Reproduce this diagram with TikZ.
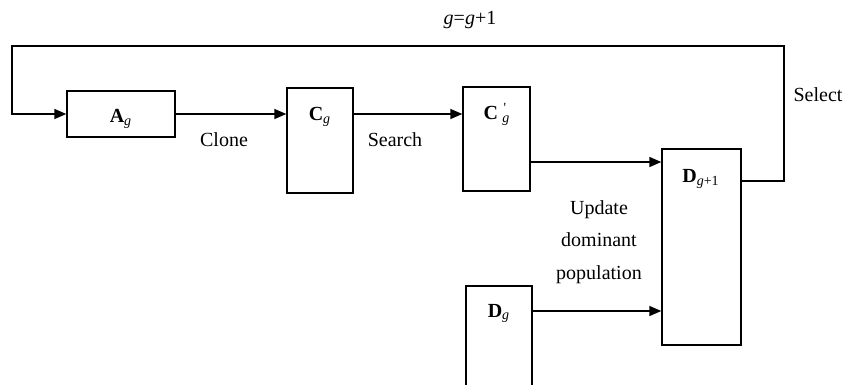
\documentclass[tikz,border=0pt]{standalone}
\usepackage{fontspec}
\setmainfont{Liberation Serif}
\usetikzlibrary{arrows.meta}

\begin{document}
\begin{tikzpicture}[x=0.5pt,y=-0.5pt,
  box/.style={draw, line width=0.7pt, inner sep=0pt},
  lbl/.style={anchor=base, inner sep=0pt},
  flow/.style={line width=0.8pt, -{Triangle[length=6pt,width=5pt]}}]
\useasboundingbox (0,0) rectangle (858,385);
\clip (0,0) rectangle (858,385);

% boxes
\node[box, minimum width=54pt, minimum height=23pt] (A) at (121,114) {};
\node[box, minimum width=33pt, minimum height=52.5pt] (C) at (320,140.5) {};
\node[box, minimum width=33.5pt, minimum height=52pt] (Cp) at (496.5,139) {};
\node[box, minimum width=39.5pt, minimum height=98pt] (Dn) at (701.5,247) {};
\node[box, minimum width=33pt, minimum height=80pt] (Dg) at (499,366) {};

% box labels
\node[lbl] (Alab) at (121,123) {\textbf{A}\textsubscript{\textit{g}}};
\node[lbl] (Clab) at (320,121) {\textbf{C}\textsubscript{\textit{g}}};
\node[lbl] (Cplab) at (497,120) {\textbf{C}\,\textsuperscript{\rlap{\,\textquotesingle}}\textsubscript{\textit{g}}};
\node[lbl] (Dnlab) at (701,183) {\textbf{D}\textsubscript{\textit{g}+1}};
\node[lbl] (Dglab) at (499,317) {\textbf{D}\textsubscript{\textit{g}}};

% turning points of the loop
\coordinate (selR) at (784,181);
\coordinate (topR) at (784,46);
\coordinate (topL) at (12,46);

% connectors
\draw[flow] (A.east) -- (A.east -| C.west);
\draw[flow] (C.east |- A.east) -- (A.east -| Cp.west);
\draw[flow] (Cp.east |- 0,162) -- (Dn.west |- 0,162);
\draw[flow] (Dg.east |- 0,311) -- (Dn.west |- 0,311);
\draw[flow] (Dn.east |- selR) -- (selR) -- (topR) -- (topL) |- (A.west);

% step texts
\node[lbl] (clone) at (224,147) {Clone};
\node[lbl] (search) at (395,147) {Search};
\node[lbl] (gen) at (470,25) {\textit{g}=\textit{g}+1};
\node[lbl] (select) at (818,102) {Select};
\node[lbl] (upd1) at (599,215) {Update};
\node[lbl] (upd2) at (599,247) {dominant};
\node[lbl] (upd3) at (599,279) {population};
\end{tikzpicture}
\end{document}
